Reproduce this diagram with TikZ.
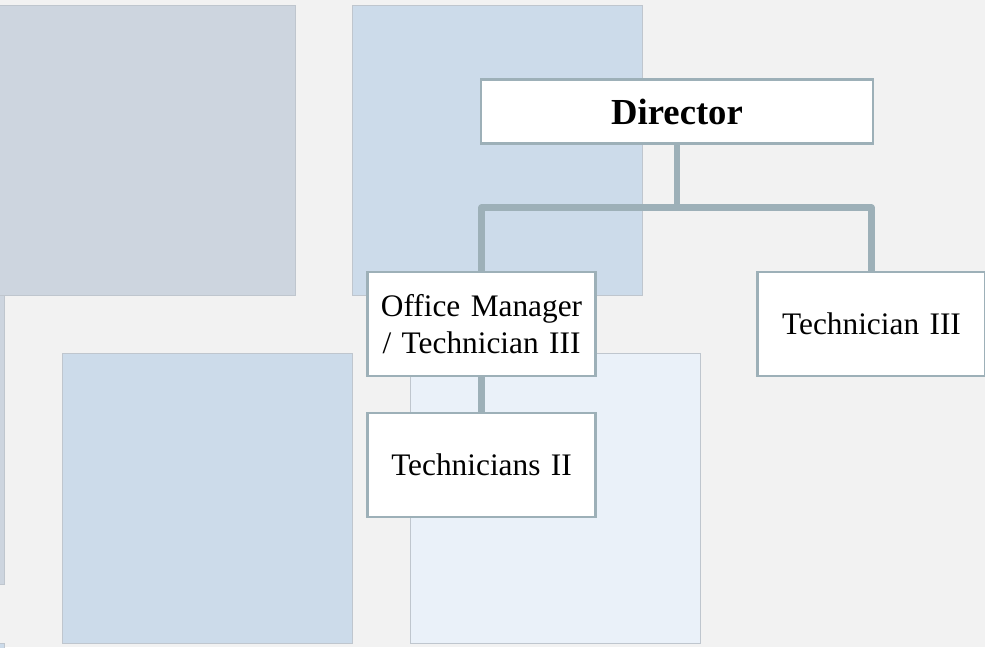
\documentclass[tikz,border=0pt]{standalone}
\usepackage{fontspec}
\setmainfont{Liberation Serif}
\usepackage{tikz}
\usetikzlibrary{positioning}
\definecolor{pageback}{HTML}{F2F2F2}
\definecolor{sqgray}{HTML}{CDD5DF}
\definecolor{sqblue}{HTML}{CCDBEA}
\definecolor{sqlight}{HTML}{EAF1F9}
\definecolor{sqedge}{HTML}{BFC6CE}
\definecolor{mline}{HTML}{9DB0B8}
\tikzstyle{tile} = [draw = sqedge, line width = 0.6pt]
\tikzstyle{role} = [rectangle, draw = mline, line width = 1.6pt, fill = white, minimum width = 171pt, minimum height = 78pt, text width = 165pt, text centered, font = \fontsize{23.5}{28}\selectfont, inner sep = 0pt]
\tikzstyle{head} = [role, minimum width = 294pt, minimum height = 48pt, text width = 288pt, font = \fontsize{27.5}{32}\selectfont\bfseries]
\tikzstyle{link} = [draw = mline, line width = 4.6pt, line join = round]

\begin{document}
\begin{tikzpicture}[x=0.75pt, y=-0.75pt, align=center]
  \useasboundingbox (0,0) rectangle (985,647);
  \fill [pageback] (0,0) rectangle (985,647);
  % background tiles
  \filldraw [tile, fill = sqgray] (-20,5) rectangle (295,295);
  \filldraw [tile, fill = sqblue] (352,5) rectangle (642,295);
  \filldraw [tile, fill = sqgray] (-20,295) rectangle (4,584);
  \filldraw [tile, fill = sqblue] (62,353) rectangle (352,643);
  \filldraw [tile, fill = sqlight] (410,353) rectangle (700,643);
  \filldraw [tile, fill = sqblue] (-20,643) rectangle (4,660);
  % chart
  \node (director) [head] at (677,111.5) {Director};
  \node (officemgr) [role] at (481.5,324) {Office Manager\\/ Technician III};
  \node (tech3) [role] at (871.5,324) {Technician III};
  \node (tech2) [role, below = 26pt of officemgr] {Technicians II};
  \coordinate (split) at (677,207.5);
  \draw [link] (director) -- (split);
  \draw [link] (split) -| (officemgr);
  \draw [link] (split) -| (tech3);
  \draw [link] (officemgr) -- (tech2);
\end{tikzpicture}
\end{document}
